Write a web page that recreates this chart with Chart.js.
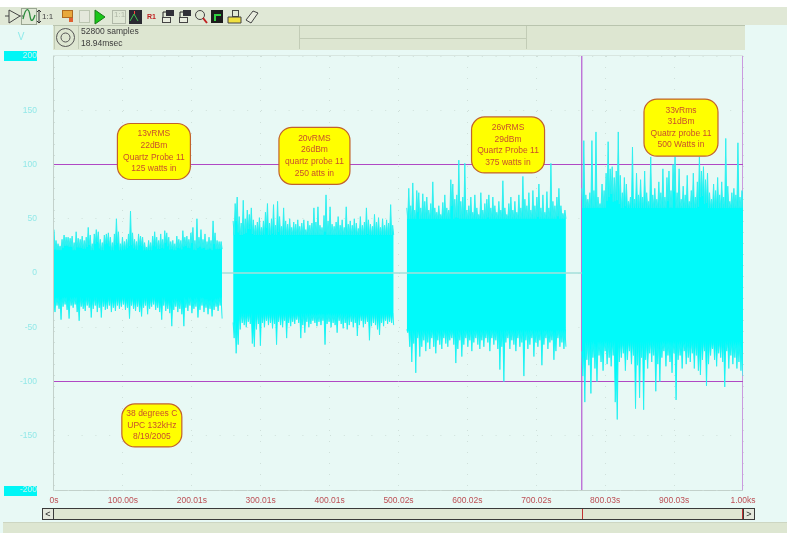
<!DOCTYPE html>
<html><head><meta charset="utf-8">
<style>html,body{margin:0;padding:0;background:#e8f9f5;overflow:hidden}canvas{display:block}</style>
<script src="https://cdn.jsdelivr.net/npm/chart.js@4"></script>
</head><body><canvas id="c" width="787" height="533"></canvas>
<script>
const xTickLabels=['0s','100.00s','200.01s','300.01s','400.01s','500.02s','600.02s','700.02s','800.03s','900.03s','1.00ks'];
const burstSpans=[[0,244],[260,493],[512,743],[766,1000]];
const coreTop=[21,35,50,60];
const coreBottom=[-22,-37,-52,-63];
const hi1=[40,30,27,25,31,35,33,33,32,34,28,38,32,31,34,30,33,42,35,27,36,40,38,31,28,35,36,37,33,28,36,50,38,27,33,29,31,36,57,37,31,29,36,34,33,28,24,30,28,34,38,33,30,36,31,39,37,33,29,30,27,34,31,30,39,33,34,31,37,42,30,50,33,40,31,36,29,33,30,48,37,30,29,29];
const lo1=[-36,-30,-33,-43,-31,-29,-34,-42,-30,-32,-29,-36,-44,-31,-33,-35,-30,-32,-41,-33,-30,-36,-32,-41,-31,-34,-33,-30,-36,-32,-35,-30,-33,-31,-29,-34,-32,-42,-30,-33,-35,-31,-36,-40,-32,-30,-38,-33,-31,-29,-34,-32,-36,-43,-30,-35,-33,-37,-49,-34,-31,-36,-33,-38,-49,-32,-35,-30,-37,-33,-31,-41,-34,-30,-36,-32,-38,-33,-40,-34,-31,-35,-30,-42];
const hi2=[48,64,70,52,46,67,50,58,54,60,49,44,47,51,42,48,56,64,46,50,63,44,66,52,43,60,48,45,50,42,47,45,49,43,46,49,40,48,44,46,60,47,61,44,42,53,72,48,61,45,43,47,52,44,49,42,61,45,48,44,50,46,41,52,44,47,60,49,45,43,54,47,51,42,50,44,49,46,63,44];
const lo2=[-60,-74,-66,-52,-46,-48,-50,-45,-47,-65,-68,-52,-47,-67,-46,-50,-44,-48,-46,-51,-47,-66,-45,-48,-50,-44,-60,-46,-49,-45,-47,-43,-46,-60,-48,-55,-45,-50,-47,-44,-46,-49,-45,-48,-44,-66,-47,-45,-50,-46,-48,-55,-44,-47,-51,-46,-52,-48,-45,-50,-46,-58,-48,-44,-50,-47,-45,-62,-49,-46,-48,-52,-57,-46,-49,-44,-47,-45,-46,-48];
const hi3=[60,78,62,83,58,76,74,60,73,66,70,58,64,84,60,56,62,54,65,72,60,58,86,82,68,72,104,66,70,101,58,62,70,56,72,60,54,74,58,64,68,72,60,70,62,56,66,58,85,60,54,64,70,58,66,56,72,60,89,68,62,74,58,76,62,70,82,60,72,56,75,60,101,66,62,70,78,62,55,58];
const lo3=[-55,-68,-82,-65,-92,-60,-77,-68,-62,-72,-64,-70,-60,-68,-74,-62,-66,-70,-60,-65,-68,-62,-60,-66,-83,-70,-62,-77,-66,-60,-68,-62,-72,-64,-60,-66,-70,-62,-68,-60,-64,-72,-60,-66,-62,-70,-89,-68,-100,-64,-60,-70,-62,-66,-72,-60,-68,-64,-95,-62,-70,-66,-60,-77,-64,-68,-62,-85,-66,-60,-70,-64,-62,-80,-72,-60,-68,-64,-70,-68];
const hi4=[78,122,72,68,74,122,76,130,70,64,82,76,92,121,96,98,88,94,130,90,74,88,82,66,70,116,68,92,72,86,70,94,74,66,107,72,78,68,84,74,96,70,88,94,76,100,107,74,96,68,80,72,90,66,76,92,70,84,107,94,98,86,92,74,68,82,76,88,72,84,70,124,80,66,74,78,72,120,70,76];
const lo4=[-95,-119,-80,-85,-111,-78,-88,-100,-76,-82,-90,-72,-84,-78,-86,-76,-119,-135,-82,-78,-74,-90,-80,-72,-84,-76,-125,-85,-115,-78,-126,-80,-88,-74,-82,-76,-109,-84,-100,-78,-72,-86,-76,-82,-92,-74,-117,-80,-76,-88,-72,-84,-78,-82,-74,-88,-76,-90,-94,-80,-72,-104,-84,-76,-70,-80,-86,-74,-78,-82,-105,-72,-88,-76,-84,-78,-88,-82,-90,-95];
const cursorLevels=[100,-100];
const cursorTimes=[766,1000];
const notes=[
 {t:145,v:112,w:73,h:56,lines:['13vRMS','22dBm','Quartz Probe 11','125 watts in']},
 {t:378,v:108,w:71,h:57,lines:['20vRMS','26dBm','quartz probe 11','250 atts in']},
 {t:659,v:118,w:73,h:56,lines:['26vRMS','29dBm','Quartz Probe 11','375 watts in']},
 {t:910,v:134,w:74,h:57,lines:['33vRms','31dBm','Quatrz probe 11','500 Watts in']},
 {t:142,v:-140.5,w:60,h:43,lines:['38 degrees C','UPC 132kHz','8/19/2005']}
];
const infoLines=['52800 samples','18.94msec'];

const FONT='"Liberation Sans", Arial, sans-serif';
function upperEdge(hi,core,span){
  const pts=[],st=(span[1]-span[0])/(hi.length-0.5);
  hi.forEach((h,i)=>{
    const next=i+1<hi.length?hi[i+1]:h;
    pts.push({x:span[0]+i*st,y:h});
    pts.push({x:span[0]+(i+0.5)*st,y:Math.max(core,Math.min(h,next)-(h+next)*0.12)});
  });
  return pts;
}
function lowerEdge(lo,core,span){
  const pts=[],st=(span[1]-span[0])/(lo.length-0.5);
  lo.forEach((l,i)=>{
    const prev=i>0?lo[i-1]:l;
    pts.push({x:span[0]+i*st,y:Math.min(core,Math.max(l,prev)-(l+prev)*0.12)});
    pts.push({x:span[0]+(i+0.5)*st,y:l});
  });
  return pts;
}
const trace=[[hi1,lo1],[hi2,lo2],[hi3,lo3],[hi4,lo4]];
const lineBase={pointRadius:0,pointHoverRadius:0,tension:0,fill:false};
const datasets=[
  {...lineBase,data:[{x:burstSpans[0][1],y:0},{x:burstSpans[3][0],y:0}],borderColor:'#a4dfda',borderWidth:1.5}
];
trace.forEach((p,i)=>{
  datasets.push({...lineBase,data:upperEdge(p[0],coreTop[i],burstSpans[i]),borderColor:'#2ff0f0',borderWidth:1,backgroundColor:'#00fafa',fill:{target:'+1'}});
  datasets.push({...lineBase,data:lowerEdge(p[1],coreBottom[i],burstSpans[i]),borderColor:'#2ff0f0',borderWidth:1});
});
cursorLevels.forEach(v=>datasets.push({...lineBase,data:[{x:0,y:v},{x:1000,y:v}],borderColor:'#b048c4',borderWidth:1}));
cursorTimes.forEach(t=>datasets.push({...lineBase,data:[{x:t,y:-200},{x:t,y:200}],borderColor:'#b65ad0',borderWidth:1.2}));
datasets.push({...lineBase,data:[{x:1000,y:-75},{x:1000,y:75}],borderColor:'#2f78e4',borderWidth:1.2});

function rr(ctx,x,y,w,h,r){ctx.beginPath();ctx.roundRect(x,y,w,h,r);}
function box(ctx,x,y,w,h,f,s){ctx.fillStyle=f;ctx.fillRect(x,y,w,h);if(s){ctx.strokeStyle=s;ctx.lineWidth=1;ctx.strokeRect(x+.5,y+.5,w-1,h-1);}}

const chrome={id:'chrome',
 beforeDraw(chart){
  const c=chart.ctx,a=chart.chartArea;
  c.save();
  c.textBaseline='middle';
  box(c,0,0,787,533,'#e8f9f5');
  box(c,0,0,787,7,'#ffffff');
  box(c,0,7,787,18,'#e0e8d6');
  box(c,53,25,692,25,'#dde6d1');
  c.strokeStyle='#b9c4ae';c.lineWidth=1;
  c.beginPath();c.moveTo(53,25.5);c.lineTo(745,25.5);c.stroke();
  [[54,26,49],[78,26,49],[299,26,49],[526,26,49]].forEach(l=>{c.strokeStyle='#c2ccb6';c.beginPath();c.moveTo(l[0]+.5,l[1]);c.lineTo(l[0]+.5,l[2]);c.stroke();});
  c.beginPath();c.moveTo(300,38.5);c.lineTo(526,38.5);c.stroke();
  c.strokeStyle='#555';c.lineWidth=1;
  c.beginPath();c.arc(65.5,37.5,9,0,7);c.stroke();
  c.beginPath();c.arc(65.5,37.5,4.5,0,7);c.stroke();
  c.fillStyle='#3c3c3c';c.font='8.5px '+FONT;c.textAlign='left';
  infoLines.forEach((s,i)=>c.fillText(s,81,31.5+i*12));
  c.fillStyle='#8eeaea';c.font='10px '+FONT;c.textAlign='center';
  c.fillText('V',21,37.5);
  box(c,4,51,33,10,'#00f6f6');
  box(c,4,486,33,10,'#00f6f6');
  c.strokeStyle='#c3d1cb';c.lineWidth=1;
  c.beginPath();c.moveTo(a.left-.5,a.top-.5);c.lineTo(a.left-.5,a.bottom+.5);c.lineTo(a.right,a.bottom+.5);c.stroke();
  c.strokeStyle='#d8e6e0';c.beginPath();c.moveTo(a.left,a.top-.5);c.lineTo(a.right,a.top-.5);c.stroke();
  box(c,42,508,713,12,'#dfe6d2','#3a3a3a');
  box(c,42,508,12,12,'#e4e8dc','#3a3a3a');
  box(c,743,508,12,12,'#e4e8dc','#3a3a3a');
  c.fillStyle='#222';c.font='9px '+FONT;c.textAlign='center';
  c.fillText('<',48,514.5);c.fillText('>',749,514.5);
  box(c,582,509,1,10,'#c03030');
  box(c,742,509,1,10,'#c03030');
  box(c,3,523,784,10,'#dde6d1');
  box(c,3,522,784,1,'#cdd6c2');
  icons(c);
  c.restore();
 },
 afterDatasetsDraw(chart){
  const c=chart.ctx,xs=chart.scales.x,ys=chart.scales.y;
  c.save();
  notes.forEach(n=>{
    const cx=xs.getPixelForValue(n.t),cy=ys.getPixelForValue(n.v);
    rr(c,cx-n.w/2,cy-n.h/2,n.w,n.h,13);
    c.fillStyle='#ffff00';c.fill();
    c.strokeStyle='#c2622c';c.lineWidth=1.2;c.stroke();
    c.fillStyle='#c8502c';c.font='8.5px '+FONT;c.textAlign='center';c.textBaseline='middle';
    const lh=11.6,y0=cy-(n.lines.length-1)*lh/2;
    n.lines.forEach((s,i)=>c.fillText(s,cx,y0+i*lh));
  });
  c.restore();
 }
};
function icons(c){
  c.lineWidth=1;
  c.strokeStyle='#444';c.beginPath();c.moveTo(9,10);c.lineTo(20,16);c.lineTo(9,23);c.closePath();c.moveTo(5,16);c.lineTo(9,16);c.moveTo(20,16);c.lineTo(23,16);c.stroke();
  c.strokeStyle='#9aa692';c.strokeRect(21.5,8.5,15,16);
  c.strokeStyle='#2a8a3a';c.lineWidth=1.3;c.beginPath();c.moveTo(23,19);c.bezierCurveTo(26,6,29,8,30,16);c.bezierCurveTo(31,23,33,21,35,15);c.stroke();
  c.lineWidth=1;
  c.strokeStyle='#333';c.beginPath();c.moveTo(39,10);c.lineTo(39,23);c.moveTo(37,12);c.lineTo(39,10);c.lineTo(41,12);c.moveTo(37,21);c.lineTo(39,23);c.lineTo(41,21);c.stroke();
  c.fillStyle='#444';c.font='8px '+FONT;c.textAlign='left';c.fillText('1:1',42,16.5);
  box(c,62,10,11,8,'#e8a83c','#b06a20');box(c,69,18,4,4,'#e06030');
  box(c,79,10,11,13,'#e4e8dc','#bcc6b2');
  c.fillStyle='#18c818';c.beginPath();c.moveTo(95,10);c.lineTo(105,17);c.lineTo(95,24);c.closePath();c.fill();c.strokeStyle='#1a7a1a';c.stroke();
  c.fillStyle='#b0b8a8';c.font='8px '+FONT;c.fillText('1:1',114,15);
  c.strokeStyle='#b0b8a8';c.strokeRect(112.5,10.5,13,13);
  box(c,129,10,13,14,'#2a2a32');
  c.strokeStyle='#40c050';c.beginPath();c.moveTo(130,21);c.lineTo(134,14);c.lineTo(138,21);c.stroke();box(c,134,11,1,3,'#ff4040');
  c.fillStyle='#c02020';c.font='bold 7px '+FONT;c.fillText('R1',147,17);
  [161,178].forEach(x=>{box(c,x+5,10,8,6,'#303038');box(c,x+1,17,9,6,'#e8ecdf','#444');
    c.strokeStyle='#222';c.beginPath();c.moveTo(x+2,17);c.lineTo(x+2,12);c.lineTo(x+5,12);c.stroke();});
  c.strokeStyle='#444';c.beginPath();c.arc(200,15,4.5,0,7);c.stroke();
  c.strokeStyle='#c02020';c.lineWidth=2;c.beginPath();c.moveTo(203,18);c.lineTo(207,23);c.stroke();c.lineWidth=1;
  box(c,211,10,12,13,'#1c1c1c');box(c,214,14,7,2,'#30d040');box(c,214,14,2,7,'#30d040');
  c.fillStyle='#f0e040';c.beginPath();c.moveTo(228,23);c.lineTo(241,23);c.lineTo(241,17);c.lineTo(228,17);c.closePath();c.fill();c.strokeStyle='#444';c.stroke();
  c.strokeStyle='#444';c.strokeRect(232.5,10.5,6,6);
  c.fillStyle='#e8ecdf';c.beginPath();c.moveTo(246,20);c.lineTo(253,11);c.lineTo(258,13);c.lineTo(251,23);c.closePath();c.fill();c.strokeStyle='#444';c.stroke();
}

new Chart(document.getElementById('c'),{
 type:'line',
 data:{datasets},
 plugins:[chrome],
 options:{
  responsive:false,animation:false,parsing:{xAxisKey:'x',yAxisKey:'y'},
  layout:{padding:{top:56,right:44,left:0,bottom:0},autoPadding:false},
  plugins:{legend:{display:false},tooltip:{enabled:false}},
  scales:{
   x:{type:'linear',min:0,max:1000,
      afterFit(s){s.height=43;},
      grid:{color:'#cfe0da',lineWidth:1,drawTicks:false},
      border:{display:false,dash:[1,10],dashOffset:0},
      ticks:{stepSize:100,padding:6,maxRotation:0,autoSkip:false,includeBounds:true,
        color:'#bc4f55',font:{family:FONT,size:8.5},
        callback:(v)=>xTickLabels[Math.round(v/100)]}},
   y:{type:'linear',min:-200,max:200,
      afterFit(s){s.width=54;},
      grid:{color:'#cfe0da',lineWidth:1,drawTicks:false},
      border:{display:false,dash:[1,12.8]},
      ticks:{stepSize:50,padding:17,
        color:(ctx)=>Math.abs(ctx.tick.value)===200?'#c4f4f0':'#93e8e8',
        font:{family:FONT,size:8.5}}}
  }
 }
});
</script></body></html>
